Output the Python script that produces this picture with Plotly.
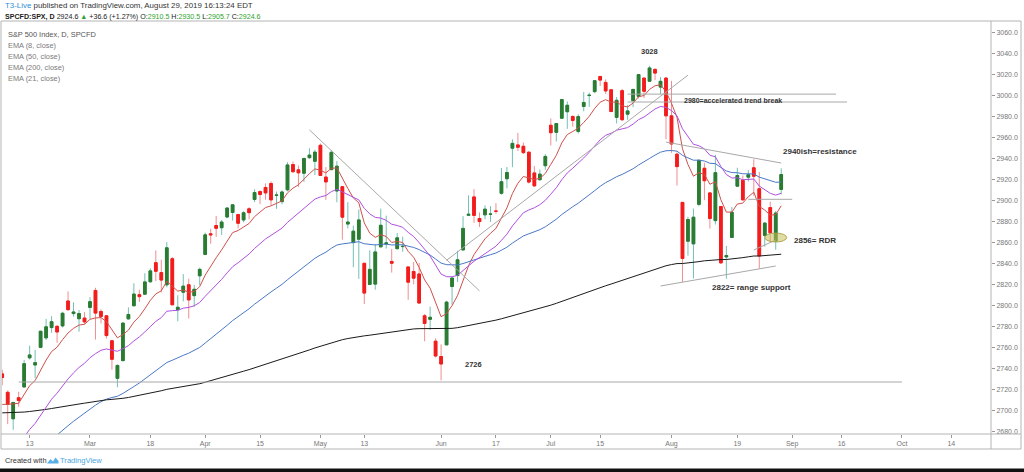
import plotly.graph_objects as go
import pandas as pd

# ---------------- data (S&P 500 CFD, daily) ----------------
dates = [
    "2019-02-06", "2019-02-07", "2019-02-08", "2019-02-11", "2019-02-12", "2019-02-13", "2019-02-14", "2019-02-15",
    "2019-02-19", "2019-02-20", "2019-02-21", "2019-02-22", "2019-02-25", "2019-02-26", "2019-02-27", "2019-02-28",
    "2019-03-01", "2019-03-04", "2019-03-05", "2019-03-06", "2019-03-07", "2019-03-08", "2019-03-11", "2019-03-12",
    "2019-03-13", "2019-03-14", "2019-03-15", "2019-03-18", "2019-03-19", "2019-03-20", "2019-03-21", "2019-03-22",
    "2019-03-25", "2019-03-26", "2019-03-27", "2019-03-28", "2019-03-29",
    "2019-04-01", "2019-04-02", "2019-04-03", "2019-04-04", "2019-04-05", "2019-04-08", "2019-04-09", "2019-04-10",
    "2019-04-11", "2019-04-12", "2019-04-15", "2019-04-16", "2019-04-17", "2019-04-18", "2019-04-22", "2019-04-23",
    "2019-04-24", "2019-04-25", "2019-04-26", "2019-04-29", "2019-04-30",
    "2019-05-01", "2019-05-02", "2019-05-03", "2019-05-06", "2019-05-07", "2019-05-08", "2019-05-09", "2019-05-10",
    "2019-05-13", "2019-05-14", "2019-05-15", "2019-05-16", "2019-05-17", "2019-05-20", "2019-05-21", "2019-05-22",
    "2019-05-23", "2019-05-24", "2019-05-28", "2019-05-29", "2019-05-30", "2019-05-31",
    "2019-06-03", "2019-06-04", "2019-06-05", "2019-06-06", "2019-06-07", "2019-06-10", "2019-06-11", "2019-06-12",
    "2019-06-13", "2019-06-14", "2019-06-17", "2019-06-18", "2019-06-19", "2019-06-20", "2019-06-21", "2019-06-24",
    "2019-06-25", "2019-06-26", "2019-06-27", "2019-06-28",
    "2019-07-01", "2019-07-02", "2019-07-03", "2019-07-05", "2019-07-08", "2019-07-09", "2019-07-10", "2019-07-11",
    "2019-07-12", "2019-07-15", "2019-07-16", "2019-07-17", "2019-07-18", "2019-07-19", "2019-07-22", "2019-07-23",
    "2019-07-24", "2019-07-25", "2019-07-26", "2019-07-29", "2019-07-30", "2019-07-31",
    "2019-08-01", "2019-08-02", "2019-08-05", "2019-08-06", "2019-08-07", "2019-08-08", "2019-08-09", "2019-08-12",
    "2019-08-13", "2019-08-14", "2019-08-15", "2019-08-16", "2019-08-19", "2019-08-20", "2019-08-21", "2019-08-22",
    "2019-08-23", "2019-08-26", "2019-08-27", "2019-08-28", "2019-08-29",
]

opens = [
    2735.05, 2717.53, 2692.36, 2712.40, 2722.61, 2750.30, 2743.50, 2760.24, 2769.28, 2779.05, 2780.24, 2780.67, 2804.35, 2792.36, 2787.50, 2788.11,
    2798.22, 2814.37, 2794.41, 2790.27, 2766.53, 2730.79, 2747.61, 2787.34, 2799.78, 2810.38, 2810.79, 2822.61, 2840.76, 2831.34, 2819.72, 2844.52, 2796.01, 2812.66, 2819.72, 2809.40, 2828.27,
    2848.63, 2868.24, 2876.09, 2873.99, 2884.16, 2888.46, 2886.58, 2881.37, 2891.92, 2900.86, 2908.32, 2912.26, 2916.04, 2904.81, 2898.78, 2909.99, 2934.00, 2928.99, 2925.81, 2940.58, 2937.14,
    2952.33, 2922.16, 2929.21, 2908.89, 2913.03, 2877.49, 2859.84, 2863.10, 2840.19, 2820.12, 2820.38, 2855.80, 2858.60, 2841.94, 2854.02, 2856.06, 2836.70, 2832.41, 2830.03, 2790.25, 2786.94, 2766.15,
    2751.53, 2762.64, 2818.09, 2828.51, 2852.87, 2885.83, 2903.27, 2882.73, 2886.24, 2886.82, 2889.75, 2906.71, 2920.55, 2949.60, 2952.71, 2951.42, 2945.78, 2926.07, 2919.66, 2932.94,
    2971.41, 2964.66, 2978.08, 2984.25, 2979.77, 2965.52, 2989.30, 2999.62, 3003.36, 3017.80, 3012.13, 3005.10, 2978.87, 3004.26, 2981.93, 2994.74, 2998.77, 3016.26, 3013.25, 3024.47, 3007.66, 3016.22,
    2980.32, 2943.90, 2898.07, 2861.18, 2858.65, 2896.21, 2930.51, 2907.07, 2880.72, 2894.15, 2846.20, 2864.74, 2913.48, 2919.01, 2922.04, 2930.94, 2911.07, 2866.70, 2893.14, 2861.28, 2910.37,
]
highs = [
    2738.98, 2719.32, 2708.07, 2718.05, 2748.19, 2761.85, 2757.90, 2775.66, 2787.33, 2789.88, 2781.58, 2794.20, 2813.49, 2803.12, 2795.76, 2793.73,
    2808.02, 2816.88, 2796.44, 2790.27, 2767.25, 2744.13, 2784.00, 2798.32, 2821.24, 2815.00, 2830.73, 2835.41, 2852.42, 2843.54, 2860.31, 2846.16, 2809.79, 2829.87, 2825.56, 2819.71, 2836.03,
    2869.40, 2872.90, 2885.25, 2881.28, 2893.24, 2895.95, 2886.88, 2889.71, 2893.42, 2910.54, 2909.60, 2916.06, 2918.00, 2908.40, 2909.51, 2936.31, 2936.83, 2933.10, 2939.88, 2949.52, 2948.22,
    2954.13, 2931.68, 2947.85, 2937.32, 2913.03, 2898.29, 2875.97, 2891.31, 2840.19, 2852.54, 2858.68, 2892.15, 2885.48, 2853.86, 2868.88, 2865.47, 2836.70, 2841.36, 2840.51, 2792.03, 2799.00, 2768.98,
    2763.07, 2804.49, 2827.28, 2852.10, 2884.97, 2904.77, 2910.61, 2888.57, 2895.24, 2894.45, 2897.27, 2930.79, 2931.74, 2958.06, 2964.15, 2954.92, 2946.52, 2932.59, 2929.30, 2943.98,
    2977.93, 2973.21, 2995.84, 2994.03, 2980.76, 2981.90, 3002.98, 3002.33, 3013.92, 3017.80, 3015.02, 3005.26, 2998.28, 3006.02, 2990.71, 3005.90, 3019.59, 3016.31, 3027.98, 3025.61, 3017.19, 3017.40,
    3013.59, 2945.50, 2898.07, 2884.40, 2892.17, 2938.72, 2935.75, 2907.58, 2943.31, 2894.15, 2856.67, 2893.63, 2931.00, 2923.63, 2928.73, 2939.08, 2927.01, 2879.27, 2898.79, 2890.03, 2930.50,
]
lows = [
    2724.15, 2687.26, 2681.83, 2703.79, 2722.61, 2748.63, 2731.23, 2760.24, 2767.29, 2774.06, 2764.55, 2779.11, 2794.99, 2789.47, 2775.13, 2782.51,
    2787.38, 2767.66, 2782.97, 2768.69, 2739.09, 2722.27, 2747.61, 2786.73, 2799.78, 2803.46, 2810.79, 2821.99, 2823.27, 2812.43, 2817.38, 2800.47, 2785.02, 2803.99, 2787.72, 2798.77, 2819.23,
    2848.63, 2858.75, 2865.17, 2867.14, 2882.99, 2880.78, 2873.33, 2879.13, 2881.99, 2898.37, 2896.48, 2900.71, 2895.45, 2891.90, 2896.35, 2908.53, 2926.05, 2912.84, 2917.56, 2939.35, 2924.11,
    2923.36, 2900.50, 2929.21, 2898.21, 2862.60, 2873.28, 2836.40, 2825.39, 2801.43, 2820.12, 2815.08, 2855.80, 2854.23, 2831.29, 2854.02, 2851.11, 2805.49, 2820.19, 2801.58, 2766.06, 2776.74, 2750.52,
    2728.81, 2762.64, 2800.92, 2822.45, 2852.87, 2885.51, 2878.53, 2874.68, 2881.99, 2879.62, 2887.30, 2905.44, 2911.43, 2931.50, 2946.87, 2944.05, 2916.01, 2912.99, 2918.57, 2929.05,
    2952.22, 2955.92, 2977.96, 2967.97, 2970.09, 2963.44, 2984.62, 2988.80, 3001.87, 3008.77, 3001.15, 2984.25, 2973.09, 2975.86, 2976.65, 2988.56, 2996.82, 2997.24, 3012.59, 3014.30, 3000.94, 2958.08,
    2945.23, 2914.11, 2822.12, 2847.42, 2825.71, 2894.47, 2900.15, 2873.14, 2877.05, 2839.64, 2825.51, 2864.74, 2913.48, 2899.60, 2917.91, 2904.51, 2834.97, 2856.00, 2860.59, 2853.05, 2905.67,
]
closes = [
    2731.61, 2706.05, 2707.88, 2709.80, 2744.73, 2753.03, 2745.73, 2775.60, 2779.76, 2784.70, 2774.88, 2792.67, 2796.11, 2793.90, 2792.38, 2784.49,
    2803.69, 2792.81, 2789.65, 2771.45, 2748.93, 2743.07, 2783.30, 2791.52, 2810.92, 2808.48, 2822.48, 2832.94, 2832.57, 2824.23, 2854.88, 2800.71, 2798.36, 2818.46, 2805.37, 2815.44, 2834.40,
    2867.19, 2867.24, 2873.40, 2879.39, 2892.74, 2895.77, 2878.20, 2888.21, 2888.32, 2907.41, 2905.58, 2907.06, 2900.45, 2905.03, 2907.97, 2933.68, 2927.25, 2926.17, 2939.88, 2943.03, 2945.83,
    2923.73, 2917.52, 2945.64, 2932.47, 2884.05, 2879.42, 2870.72, 2881.40, 2811.87, 2834.41, 2850.96, 2876.32, 2859.53, 2840.23, 2864.36, 2856.27, 2822.24, 2826.06, 2802.39, 2783.02, 2788.86, 2752.06,
    2744.45, 2803.27, 2826.15, 2843.49, 2873.34, 2886.73, 2885.72, 2879.84, 2891.64, 2886.98, 2889.67, 2917.75, 2926.46, 2954.18, 2950.46, 2945.35, 2917.38, 2913.78, 2924.92, 2941.76,
    2964.33, 2973.01, 2995.82, 2990.41, 2975.95, 2979.63, 2993.07, 2999.91, 3013.77, 3014.30, 3004.04, 2984.42, 2995.11, 2976.61, 2985.03, 3005.47, 3019.56, 3003.67, 3025.86, 3020.97, 3013.18, 2980.38,
    2953.56, 2932.05, 2844.74, 2881.77, 2883.98, 2938.09, 2918.65, 2882.70, 2926.32, 2840.60, 2847.60, 2888.68, 2923.65, 2900.51, 2924.43, 2922.95, 2847.11, 2878.38, 2869.16, 2887.94, 2924.58,
]

# EMA studies: (period, value at first visible bar, colour)
ema_periods = [8, 50, 200, 21]
ema_start_values = [2706.0, 2640.0, 2698.0, 2655.0]
ema_colors = ["#d0504a", "#4a78c8", "#1a1a1a", "#b050e0"]
ema_widths = [1, 1, 1, 1]

# x-axis ticks
tick_dates = ["2019-02-13", "2019-03-01", "2019-03-18", "2019-04-01", "2019-04-15", "2019-05-01", "2019-05-13",
              "2019-06-03", "2019-06-17", "2019-07-01", "2019-07-15", "2019-08-01", "2019-08-19", "2019-09-03",
              "2019-09-16", "2019-10-01", "2019-10-14"]
tick_labels = ["13", "Mar", "18", "Apr", "15", "May", "13", "Jun", "17", "Jul", "15", "Aug", "19", "Sep", "16", "Oct", "14"]
y_ticks = [2680, 2700, 2720, 2740, 2760, 2780, 2800, 2820, 2840, 2860, 2880, 2900, 2920, 2940, 2960, 2980,
           3000, 3020, 3040, 3060]

# hand-drawn trend lines: (start date, start value, end date, end value)
line_start_dates = ["2019-04-29", "2019-06-04", "2019-07-22", "2019-07-22", "2019-07-31", "2019-07-30",
                    "2019-08-21", "2019-08-22", "2019-02-11"]
line_start_values = [2967, 2843, 3001, 2993.5, 2955.4, 2818.6, 2901, 2852.8, 2727.3]
line_end_dates = ["2019-06-12", "2019-08-06", "2019-09-13", "2019-09-17", "2019-08-29", "2019-08-28",
                  "2019-09-03", "2019-08-28", "2019-10-01"]
line_end_values = [2814, 3019, 3001, 2993.5, 2935.5, 2837.6, 2901, 2862.3, 2727.3]

# text notes: (text, date, value, anchor, font size)
note_texts = ["3028", "2980=accelerated trend break", "2940ish=resistance", "2856= RDR", "2822= range support", "2726"]
note_dates = ["2019-07-26", "2019-08-05", "2019-08-29", "2019-09-03", "2019-08-12", "2019-06-07"]
note_values = [3041.9, 2995.4, 2946.9, 2862.3, 2817.6, 2744.4]
note_anchor = ["center", "left", "left", "left", "left", "left"]
note_sizes = [7.5, 7, 8, 8, 8, 7.5]

# highlighted zone (ellipse)
zone_dates = ["2019-08-26", "2019-08-30"]
zone_values = [2860.4, 2868.9]

# ---------------- axis calendar ----------------
holidays = ["2019-02-18", "2019-04-19", "2019-05-27", "2019-07-04", "2019-09-02"]
all_days = [d.strftime("%Y-%m-%d") for d in pd.bdate_range("2019-02-06", "2019-10-31")
            if d.strftime("%Y-%m-%d") not in holidays]

# ---------------- figure ----------------
UP_BODY, UP_WICK = "#2b7b30", "#72c0b2"
DN_BODY, DN_WICK = "#f31c1c", "#f08e8e"

fig = go.Figure()

# candles: wicks
fig.add_trace(go.Candlestick(
    x=dates, open=opens, high=highs, low=lows, close=closes,
    increasing=dict(line=dict(color=UP_WICK, width=1), fillcolor=UP_BODY),
    decreasing=dict(line=dict(color=DN_WICK, width=1), fillcolor=DN_BODY),
    hoverinfo="skip", showlegend=False))
# candles: bodies (outline same colour as body)
body_hi = [max(o, c) for o, c in zip(opens, closes)]
body_lo = [min(o, c) for o, c in zip(opens, closes)]
fig.add_trace(go.Candlestick(
    x=dates, open=opens, high=body_hi, low=body_lo, close=closes,
    increasing=dict(line=dict(color=UP_BODY, width=1), fillcolor=UP_BODY),
    decreasing=dict(line=dict(color=DN_BODY, width=1), fillcolor=DN_BODY),
    hoverinfo="skip", showlegend=False))

# EMA lines
def ema(values, period, start):
    k = 2.0 / (period + 1)
    out = [start]
    for v in values[1:]:
        out.append(out[-1] + k * (v - out[-1]))
    return out

for p, s, col, w in zip(ema_periods, ema_start_values, ema_colors, ema_widths):
    fig.add_trace(go.Scatter(x=dates, y=ema(closes, p, s), mode="lines",
                             line=dict(color=col, width=w), hoverinfo="skip", showlegend=False))

shapes = []
for x0, y0, x1, y1 in zip(line_start_dates, line_start_values, line_end_dates, line_end_values):
    shapes.append(dict(type="line", xref="x", yref="y", x0=x0, y0=y0, x1=x1, y1=y1,
                       line=dict(color="#a8a8a8", width=1)))
shapes.append(dict(type="circle", xref="x", yref="y", x0=zone_dates[0], x1=zone_dates[1],
                   y0=zone_values[0], y1=zone_values[1],
                   fillcolor="rgba(200,190,90,0.55)", line=dict(color="rgba(170,160,70,0.9)", width=1)))

# frame decoration (paper coordinates derived from the page layout)
L, R, T, B, W, H = 2, 33, 21, 38, 1024, 472
PW, PH = W - L - R, H - T - B
def px(x):
    return (x - L) / PW
def py(y):
    return (H - B - y) / PH

frame = "#b4b4b4"
shapes += [
    dict(type="rect", xref="paper", yref="paper", x0=px(1), x1=px(1021), y0=py(449), y1=py(21),
         line=dict(color=frame, width=1), layer="above"),
    dict(type="line", xref="paper", yref="paper", x0=px(991), x1=px(991), y0=py(449), y1=py(21),
         line=dict(color=frame, width=1)),
    dict(type="line", xref="paper", yref="paper", x0=px(1), x1=px(1021), y0=py(434), y1=py(434),
         line=dict(color=frame, width=1)),
    dict(type="rect", xref="paper", yref="paper", x0=px(-2), x1=px(1026), y0=py(473), y1=py(468.5),
         fillcolor="#111111", line=dict(width=0)),
    dict(type="path", xref="paper", yref="paper",
         path="M {} {} L {} {} L {} {} L {} {} L {} {} L {} {} Z".format(
             px(47), py(463.5), px(50.5), py(459), px(53), py(461.5), px(55.5), py(457.5),
             px(58.5), py(461), px(58.5), py(463.5)),
         fillcolor="#5ab0e6", line=dict(width=0)),
]

FONT = "Liberation Sans, Arial, sans-serif"
annotations = []
for t, d, v, a, s in zip(note_texts, note_dates, note_values, note_anchor, note_sizes):
    annotations.append(dict(x=d, y=v, xref="x", yref="y", text="<b>" + t + "</b>", showarrow=False,
                            xanchor=a, yanchor="middle", font=dict(size=s, color="#333333", family=FONT)))

def paper_text(x, y, text, size, color="#333333"):
    annotations.append(dict(x=px(x), y=py(y), xref="paper", yref="paper", text=text, showarrow=False,
                            xanchor="left", yanchor="middle", font=dict(size=size, color=color, family=FONT)))

paper_text(3, 5.5, '<span style="color:#2f8fd8">T3-Live</span> published on TradingView.com, August 29, 2019 16:13:24 EDT', 7.9, "#333333")
G = "#2da42d"
paper_text(3, 16.5, ('<b>SPCFD:SPX, D</b> 2924.6 <span style="color:%s">▲</span> +36.6 (+1.27%%) '
                     'O:<span style="color:%s">2910.5</span> H:<span style="color:%s">2930.5</span> '
                     'L:<span style="color:%s">2905.7</span> C:<span style="color:%s">2924.6</span>') % (G, G, G, G, G),
           7.1, "#222222")
legend_lines = ["S&amp;P 500 Index, D, SPCFD", "EMA (8, close)", "EMA (50, close)", "EMA (200, close)", "EMA (21, close)"]
for i, t in enumerate(legend_lines):
    paper_text(6, 34 + 11 * i, t, 7.4, "#555555" if i == 0 else "#7a7a7a")
paper_text(3, 460.5, "Created with", 7.4, "#333333")
paper_text(58, 460.5, "TradingView", 7.6, "#4aa6e0")

fig.update_layout(
    width=W, height=H, margin=dict(l=L, r=R, t=T, b=B, pad=0),
    paper_bgcolor="white", plot_bgcolor="white",
    shapes=shapes, annotations=annotations, showlegend=False,
    xaxis=dict(type="category", categoryorder="array", categoryarray=all_days,
               range=[-0.04, 180.24], tickmode="array", tickvals=tick_dates, ticktext=tick_labels,
               ticks="outside", ticklen=3, tickcolor="#999999", showgrid=False, showline=False,
               zeroline=False, rangeslider=dict(visible=False),
               tickfont=dict(size=7, color="#777777", family=FONT)),
    yaxis=dict(side="right", range=[2677.9, 3070.5], tickmode="array", tickvals=y_ticks,
               tickformat=".1f", ticks="outside", ticklen=3, tickcolor="#999999",
               showgrid=False, zeroline=False, showline=False,
               tickfont=dict(size=7, color="#777777", family=FONT)),
)

fig.write_html("out.html")
